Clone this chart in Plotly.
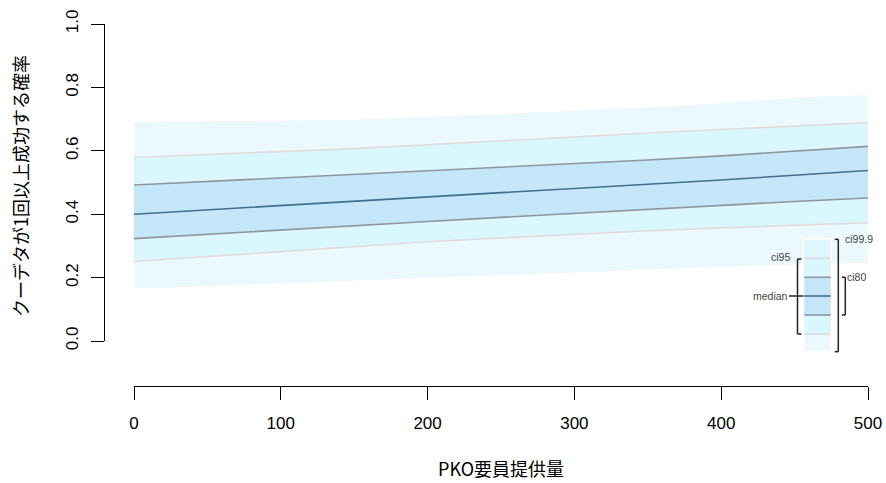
import plotly.graph_objects as go

# ---- data ----
x_vals = [0, 50, 100, 150, 200, 250, 300, 350, 400, 450, 500]
median = [0.400, 0.414, 0.428, 0.441, 0.455, 0.468, 0.481, 0.494, 0.508, 0.523, 0.538]
ci80_up = [0.492, 0.503, 0.515, 0.527, 0.538, 0.548, 0.559, 0.571, 0.584, 0.599, 0.614]
ci80_lo = [0.323, 0.337, 0.350, 0.363, 0.377, 0.390, 0.403, 0.416, 0.428, 0.440, 0.451]
ci95_up = [0.579, 0.588, 0.598, 0.607, 0.619, 0.632, 0.644, 0.656, 0.667, 0.678, 0.689]
ci95_lo = [0.251, 0.267, 0.283, 0.299, 0.313, 0.325, 0.337, 0.348, 0.357, 0.365, 0.373]
ci999_up = [0.692, 0.693, 0.695, 0.698, 0.707, 0.716, 0.726, 0.737, 0.750, 0.768, 0.776]
ci999_lo = [0.165, 0.173, 0.182, 0.190, 0.199, 0.207, 0.216, 0.225, 0.234, 0.241, 0.247]

x_ticks = [0, 100, 200, 300, 400, 500]
y_ticks = [0.0, 0.2, 0.4, 0.6, 0.8, 1.0]
y_ticklabels = ["0.0", "0.2", "0.4", "0.6", "0.8", "1.0"]
x_title = "PKO要員提供量"
y_title = "クーデタが1回以上成功する確率"

# ---- styles ----
W, H = 886, 483
C999 = "#EBF9FE"
C95 = "#DBF7FE"
C80 = "#C5E5F8"
C999_LEG = "#DEF6FD"
L95 = "#DEDCDC"
L80 = "#8E979B"
LMED = "#41708C"
FONT = "Liberation Sans, Arial, sans-serif"
JFONT = "Noto Sans CJK JP, sans-serif"


def px(xp):
    return xp / W


def py(yp):
    return (H - yp) / H


fig = go.Figure()


def band(up, lo, color):
    fig.add_trace(go.Scatter(
        x=x_vals + x_vals[::-1], y=up + lo[::-1], fill="toself",
        fillcolor=color, line=dict(width=0), mode="lines",
        hoverinfo="skip", showlegend=False))


def line(vals, color, width=1.6):
    fig.add_trace(go.Scatter(
        x=x_vals, y=vals, mode="lines", line=dict(color=color, width=width),
        hoverinfo="skip", showlegend=False))


band(ci999_up, ci999_lo, C999)
band(ci95_up, ci95_lo, C95)
band(ci80_up, ci80_lo, C80)
line(ci95_up, L95)
line(ci95_lo, L95)
line(ci80_up, L80)
line(ci80_lo, L80)
line(median, LMED)

# ---- legend key (paper coords from pixel positions) ----
shapes = []
sx0, sx1 = 803.5, 831.5
segs = [(238.7, 258.3, C999_LEG), (258.3, 277.3, C95), (277.3, 315.0, C80),
        (315.0, 334.0, C95), (334.0, 351.5, C999)]
for y0, y1, col in segs:
    shapes.append(dict(type="rect", xref="paper", yref="paper",
                       x0=px(sx0), x1=px(sx1), y0=py(y1), y1=py(y0),
                       fillcolor=col, line=dict(width=0), layer="above"))
for yy, col in [(258.3, L95), (277.3, L80), (296.0, LMED), (315.0, L80), (334.0, L95)]:
    shapes.append(dict(type="line", xref="paper", yref="paper",
                       x0=px(sx0), x1=px(sx1), y0=py(yy), y1=py(yy),
                       line=dict(color=col, width=1.6), layer="above"))
shapes.append(dict(type="rect", xref="paper", yref="paper",
                   x0=px(sx0), x1=px(sx1), y0=py(351.5), y1=py(238.7),
                   line=dict(color="white", width=1.5), layer="above"))


def seg(x0, y0, x1, y1, w=1.5):
    shapes.append(dict(type="line", xref="paper", yref="paper",
                       x0=px(x0), x1=px(x1), y0=py(y0), y1=py(y1),
                       line=dict(color="#222222", width=w), layer="above"))


# ci95 bracket (left)
seg(797.5, 259, 797.5, 334)
seg(797.5, 259, 801.5, 259)
seg(797.5, 334, 801.5, 334)
# median pointer
seg(789, 296, 803.5, 296)
# ci99.9 bracket (right)
seg(838.3, 239.3, 838.3, 351.7)
seg(834.8, 239.3, 838.3, 239.3)
seg(834.8, 351.7, 838.3, 351.7)
# ci80 bracket (right, inner)
seg(845.3, 277.3, 845.3, 315)
seg(841.8, 277.3, 845.3, 277.3)
seg(841.8, 315, 845.3, 315)

annos = []


def lab(text, xp, yp, anchor):
    annos.append(dict(text=text, xref="paper", yref="paper", x=px(xp), y=py(yp),
                      xanchor=anchor, yanchor="middle", showarrow=False,
                      font=dict(size=10.5, color="#444444",
                                family="Liberation Sans, Arial, sans-serif")))


lab("ci95", 792, 257, "right")
lab("median", 790, 296, "right")
lab("ci99.9", 843, 239, "left")
lab("ci80", 845, 277, "left")

# axis titles
annos.append(dict(text=x_title, xref="paper", yref="paper", x=px(501), y=py(468),
                  xanchor="center", yanchor="middle", showarrow=False,
                  font=dict(size=18, color="black", family=JFONT)))
annos.append(dict(text=y_title, xref="paper", yref="paper", x=px(20), y=py(186),
                  xanchor="center", yanchor="middle", showarrow=False, textangle=-90,
                  font=dict(size=18, color="black", family=JFONT)))

fig.update_layout(
    width=W, height=H,
    margin=dict(l=0, r=0, t=0, b=0, autoexpand=False),
    paper_bgcolor="white", plot_bgcolor="white",
    shapes=shapes, annotations=annos,
    xaxis=dict(range=[0, 500], domain=[px(134), px(868)], anchor="free",
               position=py(386), showgrid=False, zeroline=False, automargin=False,
               showline=True, linecolor="black", linewidth=1.2,
               ticks="outside", ticklen=13, tickwidth=1.2, tickcolor="black",
               tickvals=x_ticks, ticktext=[str(v) for v in x_ticks],
               tickfont=dict(size=17, color="black", family=FONT),
               ticklabelstandoff=8),
    yaxis=dict(range=[0, 1], domain=[py(341), py(24)], anchor="free",
               position=px(104), showgrid=False, zeroline=False, automargin=False,
               showline=True, linecolor="black", linewidth=1.2,
               ticks="outside", ticklen=13, tickwidth=1.2, tickcolor="black",
               tickvals=y_ticks, ticktext=y_ticklabels, tickangle=-90,
               tickfont=dict(size=17, color="black", family=FONT),
               ticklabelstandoff=6),
)

fig.write_html("out.html")
